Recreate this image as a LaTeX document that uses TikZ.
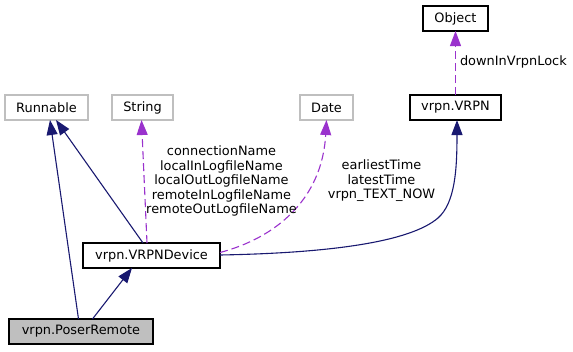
\documentclass[tikz,border=0pt]{standalone}
\usepackage{fontspec}
\setmainfont{DejaVu Sans}
\usetikzlibrary{arrows.meta,calc}
\definecolor{edgeblue}{HTML}{191970}
\definecolor{edgepurple}{HTML}{9A32CD}
\definecolor{boxgray}{HTML}{BFBFBF}
\begin{document}
\begin{tikzpicture}[x=1pt,y=-1pt,
  every node/.style={font=\fontsize{12.9}{14.5}\selectfont, inner sep=0pt, outer sep=0pt},
  cls/.style={draw=black, line width=1.3pt, fill=white, minimum height=25pt},
  ext/.style={draw=boxgray, line width=1.3pt, fill=white, minimum height=25pt},
  cur/.style={draw=black, line width=1.3pt, fill=boxgray, minimum height=25pt},
  inh/.style={draw=edgeblue, line width=1.1pt, -{Triangle[length=15pt,width=11pt]}},
  use/.style={draw=edgepurple, line width=1.1pt, dash pattern=on 8pt off 4pt,
              -{Triangle[length=15pt,width=11pt]}},
  lbl/.style={align=center}]
\useasboundingbox (0,0) rectangle (573,351);

% class boxes
\node[cls, minimum width=65pt] (obj) at (455.5,18.5) {Object};
\node[cls, minimum width=91pt] (vrpn) at (455.5,107.5) {vrpn.VRPN};
\node[ext, minimum width=83pt] (run) at (46.5,107.5) {Runnable};
\node[ext, minimum width=61pt] (str) at (142.5,107.5) {String};
\node[ext, minimum width=53pt] (date) at (326.5,107.5) {Date};
\node[cls, minimum width=137pt] (dev) at (151.5,255.5) {vrpn.VRPNDevice};
\node[cur, minimum width=144pt] (pr) at (81,331.5) {vrpn.PoserRemote};

% inheritance
\draw[inh] ($(pr.north)+(-2.5,0)$) -- ($(run.south)+(3.5,0)$);
\draw[inh] ($(pr.north)+(11.5,0)$) -- ($(dev.south)+(-19.5,0)$);
\draw[inh] ($(dev.north)+(-8.5,0)$) -- ($(run.south)+(9.5,0)$);
\draw[inh] ($(dev.east)+(0,-0.5)$) .. controls (330,253) and (410,242) .. (438,218)
  .. controls (455,203) and (457,170) .. ($(vrpn.south)+(1.5,0)$);

% usage
\draw[use] ($(dev.north)+(-4.5,0)$) -- ($(str.south)+(-1,0)$);
\draw[use] ($(dev.east)+(0,-3)$) .. controls (275,238) and (322,200) .. (date.south);
\draw[use] (vrpn.north) -- (obj.south);

% labels
\node[lbl] (lstr) at (221.5,181) {connectionName\\localInLogfileName\\localOutLogfileName\\remoteInLogfileName\\remoteOutLogfileName};
\node[lbl] (ldate) at (381.5,181) {earliestTime\\latestTime\\vrpn\_TEXT\_NOW};
\node[anchor=west] (lobj) at (460,62) {downInVrpnLock};
\end{tikzpicture}
\end{document}
